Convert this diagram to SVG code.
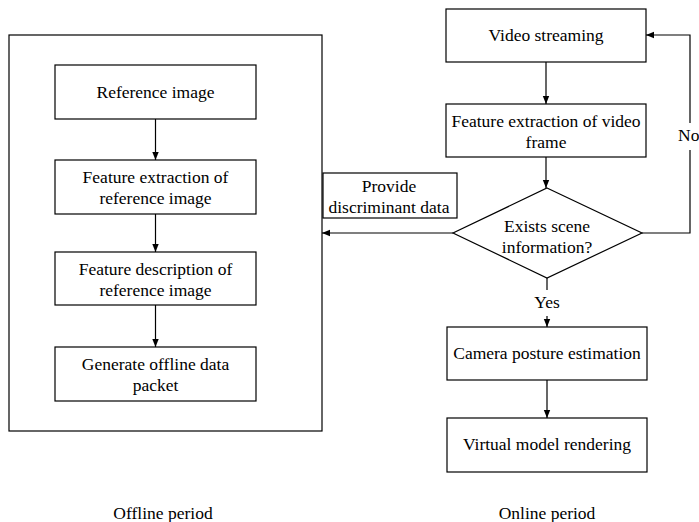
<svg xmlns="http://www.w3.org/2000/svg" width="699" height="522" viewBox="0 0 699 522">
<style>
.b{fill:#fff;stroke:#000;stroke-width:1.2}
.t{font-family:"Liberation Serif","Times New Roman",serif;font-size:17.5px;fill:#000;text-anchor:middle}
.c{fill:none;stroke:#000;stroke-width:1.2}
</style>
<defs>
<marker id="a" markerWidth="8" markerHeight="8" refX="8" refY="4" orient="auto" markerUnits="userSpaceOnUse">
<path d="M0,0.8 L8,4 L0,7.2 Z" fill="#000"/>
</marker>
</defs>
<rect x="0" y="0" width="699" height="522" fill="#fff"/>
<g id="offline-frame"><rect class="b" x="9" y="35" width="313" height="396"/></g>
<g id="n1"><rect class="b" x="55" y="65" width="201" height="54"/><text class="t" x="155.5" y="98">Reference image</text></g>
<g id="n2"><rect class="b" x="55" y="160" width="201" height="54"/><text class="t" x="155.5" y="183">Feature extraction of</text><text class="t" x="155.5" y="204">reference image</text></g>
<g id="n3"><rect class="b" x="55" y="252" width="201" height="53"/><text class="t" x="155.5" y="275">Feature description of</text><text class="t" x="155.5" y="296">reference image</text></g>
<g id="n4"><rect class="b" x="55" y="347" width="201" height="54"/><text class="t" x="155.5" y="370">Generate offline data</text><text class="t" x="155.5" y="391">packet</text></g>
<g id="v1"><rect class="b" x="446" y="9" width="200" height="53"/><text class="t" x="546" y="41">Video streaming</text></g>
<g id="v2"><rect class="b" x="446" y="104" width="200" height="53"/><text class="t" x="546" y="127">Feature extraction of video</text><text class="t" x="546" y="148">frame</text></g>
<g id="d"><path class="b" d="M547,188 L642,233 L547,278 L453,233 Z"/><text class="t" x="547" y="232">Exists scene</text><text class="t" x="547" y="253">information?</text></g>
<g id="pd"><rect class="b" x="323" y="173" width="134" height="45"/><text class="t" x="389" y="192">Provide</text><text class="t" x="389" y="213">discriminant data</text></g>
<g id="v3"><rect class="b" x="447" y="327" width="200" height="53"/><text class="t" x="547" y="359">Camera posture estimation</text></g>
<g id="v4"><rect class="b" x="447" y="418" width="200" height="54"/><text class="t" x="547" y="450">Virtual model rendering</text></g>
<g id="labels">
<text class="t" x="163" y="519">Offline period</text>
<text class="t" x="547" y="519">Online period</text>
</g>
<g id="connectors">
<line class="c" x1="155.5" y1="119" x2="155.5" y2="160" marker-end="url(#a)"/>
<line class="c" x1="155.5" y1="214" x2="155.5" y2="252" marker-end="url(#a)"/>
<line class="c" x1="155.5" y1="305" x2="155.5" y2="347" marker-end="url(#a)"/>
<line class="c" x1="546" y1="62" x2="546" y2="104" marker-end="url(#a)"/>
<line class="c" x1="546" y1="157" x2="546" y2="188" marker-end="url(#a)"/>
<polyline class="c" points="642,233 690,233 690,150"/>
<polyline class="c" points="690,123 690,35 646,35" marker-end="url(#a)"/>
<text class="t" x="678" y="141" style="text-anchor:start">No</text>
<line class="c" x1="453" y1="233" x2="322" y2="233" marker-end="url(#a)"/>
<line class="c" x1="547" y1="278" x2="547" y2="290"/>
<text class="t" x="547" y="308">Yes</text>
<line class="c" x1="547" y1="316" x2="547" y2="327" marker-end="url(#a)"/>
<line class="c" x1="547" y1="380" x2="547" y2="418" marker-end="url(#a)"/>
</g>
</svg>
